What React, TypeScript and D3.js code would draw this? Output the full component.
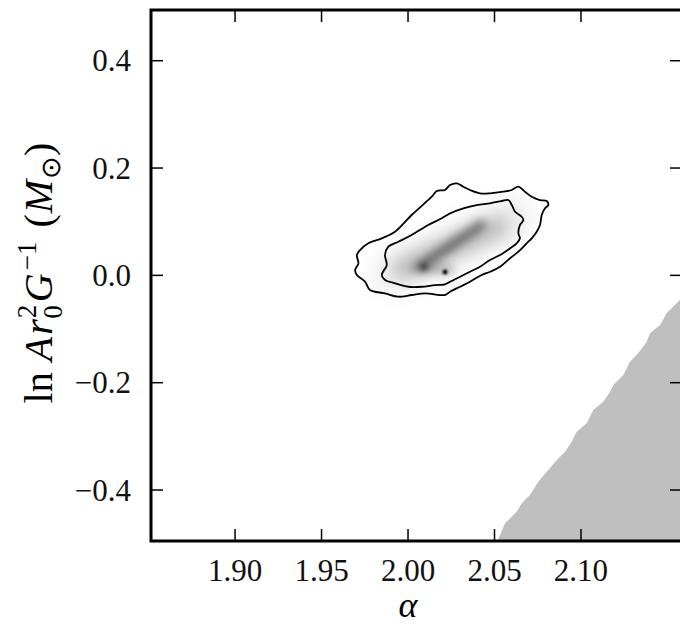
import React from "react";
import * as d3 from "d3";

// ---- data ----
const X_TICKS = [1.9, 1.95, 2.0, 2.05, 2.1];
const Y_TICKS = [-0.4, -0.2, 0.0, 0.2, 0.4];
const X_DOMAIN = [1.8514, 2.1584];
const Y_DOMAIN = [-0.495, 0.4945];

// outer (95%) contour: [alpha, lnA]
const OUTER_CONTOUR: [number, number][] = [
  [1.9694, 0.0100], [1.9713, 0.0225], [1.9704, 0.0379], [1.9723, 0.0472],
  [1.9771, 0.0597], [1.9848, 0.0690], [1.9925, 0.0813], [2.0021, 0.1125],
  [2.0137, 0.1466], [2.0166, 0.1572], [2.0214, 0.1591], [2.0243, 0.1684],
  [2.0282, 0.1715], [2.0320, 0.1652], [2.0358, 0.1591], [2.0416, 0.1529],
  [2.0474, 0.1529], [2.0551, 0.1559], [2.0600, 0.1591], [2.0638, 0.1652],
  [2.0676, 0.1559], [2.0715, 0.1466], [2.0763, 0.1404], [2.0802, 0.1386],
  [2.0811, 0.1311], [2.0792, 0.1250], [2.0773, 0.1125], [2.0763, 0.0938],
  [2.0744, 0.0813], [2.0715, 0.0690], [2.0686, 0.0597], [2.0638, 0.0441],
  [2.0590, 0.0318], [2.0532, 0.0161], [2.0474, 0.0068], [2.0426, 0.0007],
  [2.0358, -0.0118], [2.0301, -0.0212], [2.0243, -0.0305], [2.0214, -0.0366],
  [2.0098, -0.0335], [2.0021, -0.0366], [1.9944, -0.0398], [1.9867, -0.0335],
  [1.9780, -0.0273], [1.9751, -0.0118], [1.9704, 0.0007],
];

// inner (68%) contour
const INNER_CONTOUR: [number, number][] = [
  [1.9867, 0.0379], [1.9886, 0.0534], [1.9944, 0.0627], [2.0021, 0.0752],
  [2.0117, 0.0938], [2.0195, 0.1063], [2.0243, 0.1156], [2.0320, 0.1250],
  [2.0397, 0.1311], [2.0474, 0.1343], [2.0542, 0.1386], [2.0580, 0.1404],
  [2.0600, 0.1311], [2.0619, 0.1186], [2.0657, 0.1093], [2.0667, 0.1031],
  [2.0647, 0.0938], [2.0638, 0.0784], [2.0647, 0.0690], [2.0628, 0.0597],
  [2.0590, 0.0504], [2.0532, 0.0379], [2.0474, 0.0286], [2.0416, 0.0161],
  [2.0358, 0.0068], [2.0301, -0.0025], [2.0243, -0.0118], [2.0214, -0.0167],
  [2.0156, -0.0180], [2.0079, -0.0212], [2.0002, -0.0212], [1.9925, -0.0148],
  [1.9867, -0.0087], [1.9848, 0.0007], [1.9877, 0.0193],
];

// density components: segments [a1, v1, a2, v2]
const DENSITY_SEGMENTS: [number, number, number, number][] = [
  [1.9925, 0.0062, 2.0590, 0.1031],
  [1.9983, 0.0137, 2.0503, 0.0882],
  [2.0080, 0.0190, 2.0420, 0.0930],
  [2.0040, 0.0137, 2.0243, 0.0100],
  [2.0092, 0.0156, 2.0092, 0.0156],
  [2.0214, 0.0062, 2.0214, 0.0062],
];
const DENSITY_LEVEL = [0.09, 0.16, 0.42, 0.22, 0.5, 0.95];

// excluded (prior) region boundary
const EXCLUDED_EDGE: [number, number][] = [
  [2.0497, -0.51], [2.0561, -0.4621], [2.0628, -0.4405], [2.0657, -0.4248],
  [2.0705, -0.4094], [2.0753, -0.3846], [2.0811, -0.3628], [2.0860, -0.3441],
  [2.0908, -0.3286], [2.0946, -0.3100], [2.0975, -0.2914], [2.1033, -0.2757],
  [2.1071, -0.2509], [2.1129, -0.2355], [2.1168, -0.2168], [2.1187, -0.2043],
  [2.1245, -0.1857], [2.1283, -0.1609], [2.1331, -0.1453], [2.1380, -0.1236],
  [2.1399, -0.1080], [2.1457, -0.0925], [2.1495, -0.0707], [2.1543, -0.0553],
  [2.1572, -0.0459], [2.1650, -0.0200], [2.1650, -0.51],
];

const W = 680, H = 626;
const L = 151, R = 682, T = 10, B = 541;
const FONT = "'Liberation Serif', 'Times New Roman', serif";

export default function App() {
  const x = d3.scaleLinear().domain(X_DOMAIN).range([L, R]);
  const y = d3.scaleLinear().domain(Y_DOMAIN).range([B, T]);
  const line = d3.line<[number, number]>().x(d => x(d[0])).y(d => y(d[1]));
  const smooth = d3.line<[number, number]>().x(d => x(d[0])).y(d => y(d[1])).curve(d3.curveCatmullRomClosed.alpha(0.5));
  const fx = d3.format(".2f");
  const fy = d3.format(".1f");
  const widths = [40, 24, 11, 10, 7, 5];
  const blurs = [10, 7, 4.5, 4.5, 2.5, 1];
  const tick = 12;

  return (
    <svg width={W} height={H} style={{ position: "absolute", left: 0, top: 0, background: "#fff" }}>
      <defs>
        <clipPath id="plot"><rect x={L} y={T} width={R - L} height={B - T} /></clipPath>
        {blurs.map((b, i) => (
          <filter key={i} id={`blur${i}`} x="-50%" y="-50%" width="200%" height="200%" filterUnits="userSpaceOnUse">
            <feGaussianBlur stdDeviation={b} />
          </filter>
        ))}
      </defs>
      <g clipPath="url(#plot)">
        <path d={line(EXCLUDED_EDGE) + "Z"} fill="#bfbfbf" />
        {DENSITY_SEGMENTS.map((s, i) => (
          <line key={i} x1={x(s[0])} y1={y(s[1])} x2={x(s[2]) + (s[0] === s[2] ? 0.01 : 0)} y2={y(s[3])}
            stroke={`rgba(0,0,0,${DENSITY_LEVEL[i]})`} strokeWidth={widths[i]} strokeLinecap="round"
            filter={`url(#blur${i})`} />
        ))}
        <path d={smooth(OUTER_CONTOUR) || ""} fill="none" stroke="#000" strokeWidth={1.8} />
        <path d={smooth(INNER_CONTOUR) || ""} fill="none" stroke="#000" strokeWidth={1.8} />
      </g>
      {/* ticks */}
      {X_TICKS.map(t => (
        <g key={"x" + t} stroke="#000" strokeWidth={1.5}>
          <line x1={x(t)} x2={x(t)} y1={T} y2={T + tick} />
          <line x1={x(t)} x2={x(t)} y1={B} y2={B - tick} />
        </g>
      ))}
      {Y_TICKS.map(t => (
        <g key={"y" + t} stroke="#000" strokeWidth={1.5}>
          <line x1={L} x2={L + tick} y1={y(t)} y2={y(t)} />
          <line x1={R} x2={R - tick} y1={y(t)} y2={y(t)} />
        </g>
      ))}
      <rect x={L} y={T} width={R - L} height={B - T} fill="none" stroke="#000" strokeWidth={3} />
      {/* tick labels */}
      <g fontFamily={FONT} fontSize={31} fill="#111">
        {X_TICKS.map(t => (
          <text key={"xl" + t} x={x(t)} y={581} textAnchor="middle">{fx(t)}</text>
        ))}
        {Y_TICKS.map(t => (
          <text key={"yl" + t} x={131} y={y(t) + 10.5} textAnchor="end">{fy(t)}</text>
        ))}
      </g>
      <text x={x(2.0)} y={617} textAnchor="middle" fontFamily={FONT} fontSize={36} fontStyle="italic">α</text>
      <text transform={`translate(52,${273}) rotate(-90)`} textAnchor="middle" fontFamily={FONT} fontSize={40}>
        <tspan>ln</tspan>
        <tspan fontStyle="italic" dx={11}>A</tspan>
        <tspan fontStyle="italic" dx={2}>r</tspan>
        <tspan fontSize={27} dy={-16} dx={1}>2</tspan>
        <tspan fontSize={27} dx={-14} dy={26}>0</tspan>
        <tspan fontStyle="italic" dy={-10} dx={3}>G</tspan>
        <tspan fontSize={27} dy={-16} dx={3}>−1</tspan>
        <tspan dy={16} dx={14}>(</tspan>
        <tspan fontStyle="italic" dx={1}>M</tspan>
        <tspan fontSize={27} dy={8} dx={1}>⊙</tspan>
        <tspan dy={-8}>)</tspan>
      </text>
    </svg>
  );
}
